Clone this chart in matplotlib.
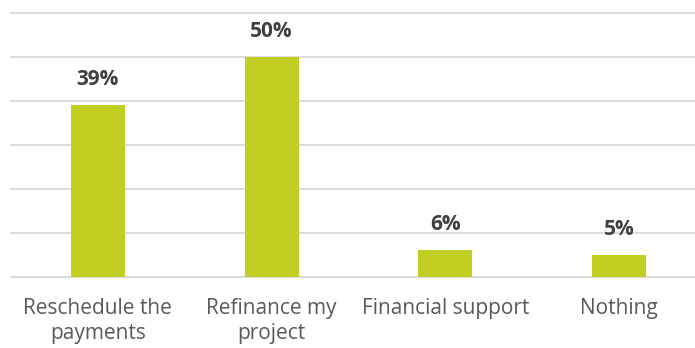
import matplotlib.pyplot as plt
import numpy as np

# Survey answers and their shares (%)
categories = ["Reschedule the\npayments", "Refinance my\nproject", "Financial support", "Nothing"]
shares = [39, 50, 6, 5]
labels = ["39%", "50%", "6%", "5%"]

bar_color = "#C3CE22"
grid_color = "#D9D9D9"

plt.rcParams['font.family'] = ['Open Sans', 'DejaVu Sans']

fig = plt.figure(figsize=(6.95, 3.48), dpi=100, facecolor='w')
ax = fig.add_axes([11 / 695, 1 - 276.7 / 348, 695 / 695, (276.7 - 13) / 348])

x = np.arange(len(categories))
bars = ax.bar(x, shares, width=0.31, color=bar_color, zorder=3)

for rect, txt in zip(bars, labels):
    ax.annotate(txt, (rect.get_x() + rect.get_width() / 2, rect.get_height()),
                xytext=(0, 14.5), textcoords='offset points',
                ha='center', va='baseline', fontsize=15, fontweight='bold',
                color='#404040')

# Decorations
ax.set_xlim(-0.5, 3.5)
ax.set_ylim(0, 60)
ax.set_yticks(np.arange(0, 61, 10))
ax.yaxis.grid(True, color=grid_color, linewidth=1.3, zorder=0)
for line in ax.yaxis.get_gridlines():
    line.set_clip_on(False)
ax.tick_params(axis='y', left=False, labelleft=False)
ax.tick_params(axis='x', length=0, pad=15, labelsize=15, labelcolor='#595959')
ax.set_xticks(x)
ax.set_xticklabels(categories, linespacing=1.3)
for side in ['top', 'left', 'right']:
    ax.spines[side].set_visible(False)
ax.spines['bottom'].set_color(grid_color)
ax.spines['bottom'].set_linewidth(1.3)

fig.savefig("out.png", dpi=100, facecolor='w')
